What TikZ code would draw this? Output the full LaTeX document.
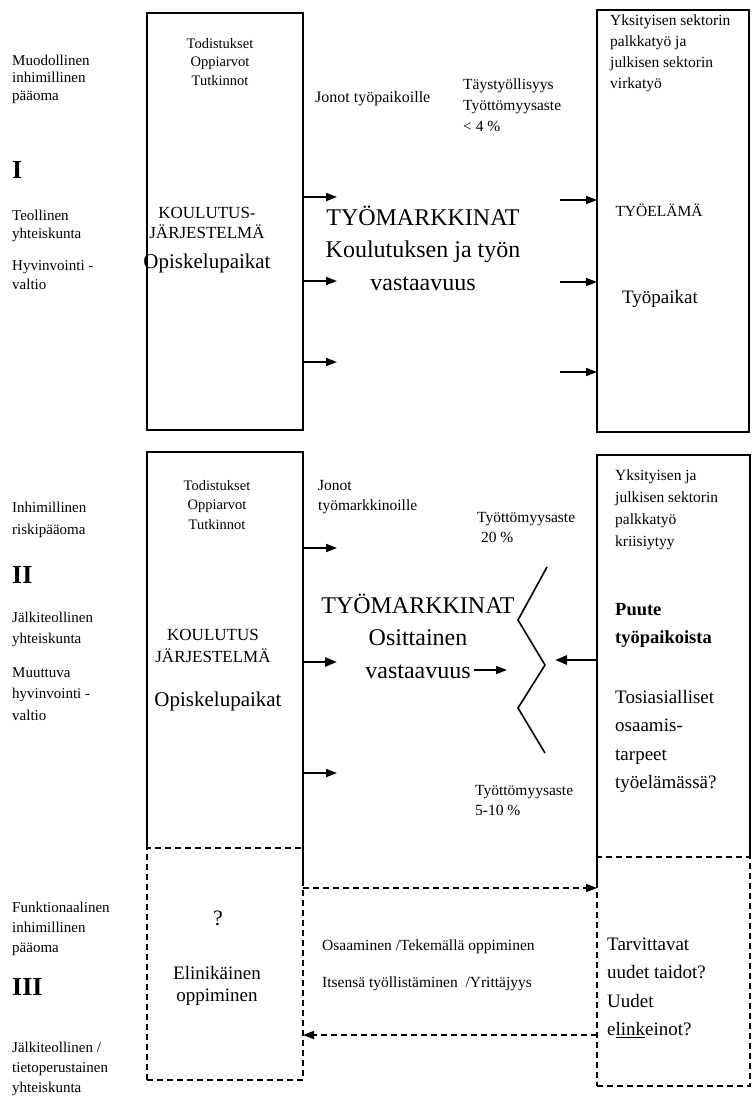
\documentclass[tikz,border=0pt]{standalone}
\usepackage{fontspec}
\setmainfont{Liberation Serif}
\usetikzlibrary{arrows.meta}
\newcommand\fsz[2]{\fontsize{#1}{#2}\selectfont}
\begin{document}
\begin{tikzpicture}[x=1pt,y=-1pt,
  boxn/.style={minimum width=#1, inner sep=0, outer sep=0},
  solidbox/.style={draw, line width=1.8pt},
  dbox/.style={draw, line width=1.6pt, dash pattern=on 6pt off 4pt},
  arr/.style={line width=1.8pt, -{Triangle[length=11pt,width=8pt]}},
  thickarr/.style={line width=2.6pt, -{Triangle[length=12pt,width=9pt]}},
  darr/.style={line width=1.6pt, dash pattern=on 6pt off 4pt, -{Triangle[length=11pt,width=8pt]}},
  lbl/.style={anchor=base west, align=left, inner sep=0},
  ctr/.style={anchor=base, align=center, inner sep=0}]
\useasboundingbox (0,0) rectangle (752,1103);

% ---------- boxes ----------
\node[boxn=156pt, minimum height=417pt, solidbox] (b1) at (225,221.5) {};
\node[boxn=152pt, minimum height=422pt, solidbox] (r1) at (673,221) {};
\node[boxn=156pt, minimum height=396pt] (b2) at (225,650) {};
\draw[line width=1.8pt] (b2.south west) -- (b2.north west) -- (b2.north east) -- (b2.south east) -- ++(0,32);
\node[boxn=156pt, minimum height=232pt, dbox] (b3) at (225,964) {};
\node[boxn=153pt, minimum height=402pt] (r2) at (673.5,656) {};
\draw[line width=1.8pt] (r2.south west) ++(0,30) -- (r2.north west) -- (r2.north east) -- (r2.south east);
\node[boxn=153pt, minimum height=229pt, dbox] (r3) at (673.5,971.5) {};

% ---------- section I ----------
\node[lbl, font=\fsz{15}{17.5}] (l1a) at (12,100) {Muodollinen\\inhimillinen\\pääoma};
\node[lbl, font=\bfseries\fsz{26}{30}] (l1b) at (12,178) {I};
\node[lbl, font=\fsz{15}{18}] (l1c) at (12,238) {Teollinen\\yhteiskunta};
\node[lbl, font=\fsz{15}{19}] (l1d) at (12,289) {Hyvinvointi -\\valtio};

\node[ctr, font=\fsz{14.5}{18.5}] (b1t) at (220,85) {Todistukset\\Oppiarvot\\Tutkinnot};
\node[ctr, font=\fsz{17}{20}] (b1k) at (207,238) {KOULUTUS-\\JÄRJESTELMÄ};
\node[ctr, font=\fsz{21}{24}] (b1o) at (207,268) {Opiskelupaikat};

\node[lbl, font=\fsz{16}{19}] (jono1) at (315,102) {Jonot työpaikoille};
\node[lbl, font=\fsz{15.5}{21}] (tays) at (463,131) {Täystyöllisyys\\Työttömyysaste\\< 4 \%};
\node[ctr, font=\fsz{24}{32.5}] (tm1) at (423,290) {TYÖMARKKINAT\\Koulutuksen ja työn\\vastaavuus};

\node[lbl, font=\fsz{15.5}{21}] (r1t) at (610,88) {Yksityisen sektorin\\palkkatyö ja\\julkisen sektorin\\virkatyö};
\node[ctr, font=\fsz{15.5}{19}] (r1e) at (659,216) {TYÖELÄMÄ};
\node[ctr, font=\fsz{19}{22}] (r1p) at (660,303) {Työpaikat};

\coordinate (a1) at (337,197);
\coordinate (a2) at (337,281);
\coordinate (a3) at (337,362);
\draw[arr] (b1.east |- a1) -- (a1);
\draw[arr] (b1.east |- a2) -- (a2);
\draw[arr] (b1.east |- a3) -- (a3);
\coordinate (c1) at (560,200);
\coordinate (c2) at (560,282);
\coordinate (c3) at (560,372);
\draw[arr] (c1) -- (c1 -| r1.west);
\draw[arr] (c2) -- (c2 -| r1.west);
\draw[arr] (c3) -- (c3 -| r1.west);

% ---------- section II ----------
\node[lbl, font=\fsz{15}{22}] (l2a) at (12,534) {Inhimillinen\\riskipääoma};
\node[lbl, font=\bfseries\fsz{26}{30}] (l2b) at (12,583) {II};
\node[lbl, font=\fsz{15}{21}] (l2c) at (12,643) {Jälkiteollinen\\yhteiskunta};
\node[lbl, font=\fsz{15}{21.5}] (l2d) at (12,720) {Muuttuva\\hyvinvointi -\\valtio};

\node[ctr, font=\fsz{14.5}{19.5}] (b2t) at (217,529) {Todistukset\\Oppiarvot\\Tutkinnot};
\node[ctr, font=\fsz{17}{22}] (b2k) at (213,662) {KOULUTUS\\JÄRJESTELMÄ};
\node[ctr, font=\fsz{21}{24}] (b2o) at (218,706) {Opiskelupaikat};

\node[lbl, font=\fsz{15.5}{20}] (jono2) at (318,510) {Jonot\\työmarkkinoille};
\node[lbl, font=\fsz{15.5}{20}] (tt20) at (477,542) {Työttömyysaste\\\ 20 \%};
\node[ctr, font=\fsz{24}{32.5}] (tm2) at (418,678) {TYÖMARKKINAT\\Osittainen\\vastaavuus};
\node[lbl, font=\fsz{15.5}{20}] (tt510) at (475,815) {Työttömyysaste\\5-10 \%};

\node[lbl, font=\fsz{15.5}{22}] (r2t) at (615,546) {Yksityisen ja\\julkisen sektorin\\palkkatyö\\kriisiytyy};
\node[lbl, font=\bfseries\fsz{18.5}{28}] (r2p) at (615,643) {Puute\\työpaikoista};
\node[lbl, font=\fsz{19}{28.5}] (r2o) at (615,788.5) {Tosiasialliset\\osaamis-\\tarpeet\\työelämässä?};

\coordinate (d1) at (337,548);
\coordinate (d2) at (337,662);
\coordinate (d3) at (337,773);
\draw[arr] (b2.east |- d1) -- (d1);
\draw[thickarr] (b2.east |- d2) -- (d2);
\draw[arr] (b2.east |- d3) -- (d3);
\coordinate (va) at (474,670);
\coordinate (vb) at (507,670);
\draw[arr] (va) -- (vb);
\coordinate (e1) at (555,660);
\draw[thickarr] (e1 -| r2.west) -- (e1);
\draw[line width=1.6pt] (547,567) -- (518,620) -- (545,665) -- (518,708) -- (545,753);

% ---------- section III ----------
\node[lbl, font=\fsz{15}{20}] (l3a) at (12,952) {Funktionaalinen\\inhimillinen\\pääoma};
\node[lbl, font=\bfseries\fsz{26}{30}] (l3b) at (12,995) {III};
\node[lbl, font=\fsz{15}{20}] (l3c) at (12,1092) {Jälkiteollinen /\\tietoperustainen\\yhteiskunta};

\node[ctr, font=\fsz{22}{24}] (qm) at (218,925) {?};
\node[ctr, font=\fsz{19}{22}] (eli) at (217,1001) {Elinikäinen\\oppiminen};
\node[lbl, font=\fsz{15.5}{37}] (osa) at (322,987) {Osaaminen /Tekemällä oppiminen\\Itsensä työllistäminen \ /Yrittäjyys};
\node[lbl, font=\fsz{19}{28.5}] (tarv) at (607,1035.5) {Tarvittavat\\uudet taidot?\\Uudet\\e\underline{link}einot?};

\coordinate (f1) at (0,888);
\coordinate (f2) at (0,1035);
\draw[darr] (b3.east |- f1) -- (r3.west |- f1);
\draw[darr] (r3.west |- f2) -- (b3.east |- f2);
\end{tikzpicture}
\end{document}
